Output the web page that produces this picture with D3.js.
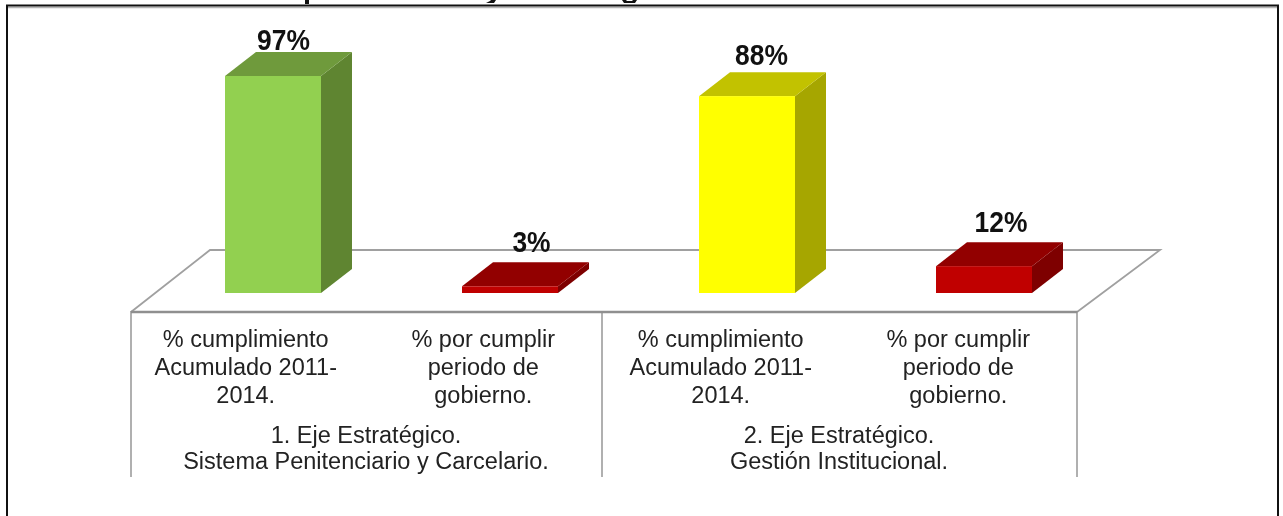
<!DOCTYPE html>
<html><head><meta charset="utf-8">
<script src="https://cdn.jsdelivr.net/npm/d3@7/dist/d3.min.js"></script>
<style>html,body{margin:0;padding:0;background:#fff}svg{display:block;filter:blur(0.45px)}
text{font-family:"Liberation Sans",Arial,sans-serif}</style></head>
<body><svg id="c" width="1283" height="516"></svg>
<script>
const categories = ["a","b","c","d"];
const values = [97,3,88,12];
const valueLabels = ["97%","3%","88%","12%"];
const frontColors = ["#92d050","#c00000","#ffff00","#c00000"];
const topColors = ["#6f9a3c","#920000","#c2c200","#920000"];
const sideColors = ["#5f8531","#7e0000","#a6a600","#7e0000"];
const catLines = [
 ["% cumplimiento","Acumulado 2011-","2014."],
 ["% por cumplir","periodo de","gobierno."],
 ["% cumplimiento","Acumulado 2011-","2014."],
 ["% por cumplir","periodo de","gobierno."]];
const groupLines = [
 ["1. Eje Estratégico.","Sistema Penitenciario y Carcelario."],
 ["2. Eje Estratégico.","Gestión Institucional."]];

const svg = d3.select("#c");
const W=1283,H=516;
const x0=131,x1=1077,base=293,floorFront=312,floorBack=250,floorDx=81;
const dx=31,dy=24;
const x = d3.scaleBand().domain(categories).range([154.5,1102.5]).paddingInner(0.595).paddingOuter(0.2975);
const y = d3.scaleLinear().domain([0,97]).range([base,76]);
const cx = d3.scaleBand().domain(categories).range([127,1077]);
const g = d3.scaleBand().domain([0,1]).range([x0,x1]);
const labelShiftX = [10.5,21.5,14.5,17];
const labelShiftY = [2,10,7,10];

// frame
svg.append("line").attr("x1",8).attr("x2",W-6).attr("y1",7.5).attr("y2",7.5).attr("stroke","#b5b5b5").attr("stroke-width",1.5);
svg.append("path").attr("d",`M7 ${H}V5.5H${W-5}V${H}`).attr("fill","none").attr("stroke","#111").attr("stroke-width",2);

// cropped title remnants at the top edge
svg.append("path").attr("fill","#111").attr("d","M305 0h4v4h-4zM486 3h8l2-3h-5l-1 1zM622 0h4l1 1h5l1-1h4l-2 3h-11z");

// floor
const grey="#8f8f8f";
svg.append("path").attr("d",`M${x0} ${floorFront}L${x0+floorDx-2} ${floorBack}H${x1+floorDx+2}L${x1} ${floorFront}`)
 .attr("fill","none").attr("stroke","#a0a0a0").attr("stroke-width",1.8);
svg.append("line").attr("x1",x0).attr("x2",x1).attr("y1",floorFront).attr("y2",floorFront).attr("stroke",grey).attr("stroke-width",2.4);
svg.selectAll(".sep").data([x0,602,x1]).join("line").attr("class","sep")
 .attr("x1",d=>d).attr("x2",d=>d).attr("y1",floorFront-1).attr("y2",477).attr("stroke",grey).attr("stroke-width",1.4);

// bars
const bars = svg.selectAll(".bar").data(categories).join("g").attr("class","bar");
bars.append("path").attr("fill",(d,i)=>sideColors[i]).attr("d",(d,i)=>{
  const r=x(d)+x.bandwidth(),t=y(values[i]);
  return `M${r} ${base}L${r+dx} ${base-dy}V${t-dy}L${r} ${t}Z`;});
bars.append("path").attr("fill",(d,i)=>topColors[i]).attr("d",(d,i)=>{
  const l=x(d),r=l+x.bandwidth(),t=y(values[i]);
  return `M${l} ${t}L${l+dx} ${t-dy}H${r+dx}L${r} ${t}Z`;});
bars.append("rect").attr("fill",(d,i)=>frontColors[i])
 .attr("x",d=>x(d)).attr("width",x.bandwidth())
 .attr("y",(d,i)=>y(values[i])).attr("height",(d,i)=>base-y(values[i]));

// value labels
bars.append("text").text((d,i)=>valueLabels[i])
 .attr("text-anchor","middle").attr("font-weight","bold").attr("font-size",30).attr("fill","#111")
 .attr("transform",(d,i)=>`translate(${x(d)+x.bandwidth()/2+labelShiftX[i]},${y(values[i])-dy-labelShiftY[i]}) scale(0.88,1)`);

// category labels
svg.selectAll(".cat").data(categories).join("text").attr("class","cat")
 .attr("text-anchor","middle").attr("font-size",23.5).attr("fill","#222")
 .each(function(d,i){
   d3.select(this).selectAll("tspan").data(catLines[i]).join("tspan")
    .attr("x",cx(d)+cx.bandwidth()/2).attr("y",(t,j)=>346.5+j*28).text(t=>t);
 });

// group labels
svg.selectAll(".grp").data(groupLines).join("text").attr("class","grp")
 .attr("text-anchor","middle").attr("font-size",23.5).attr("fill","#222")
 .each(function(d,i){
   d3.select(this).selectAll("tspan").data(d).join("tspan")
    .attr("x",g(i)+g.bandwidth()/2-1.5).attr("y",(t,j)=>443+j*26).text(t=>t);
 });
</script></body></html>
